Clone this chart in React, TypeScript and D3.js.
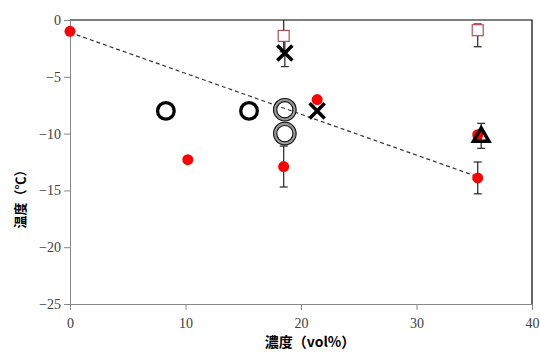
import React, { useEffect, useRef } from "react";
import * as d3 from "d3";

// red filled circles
const redX = [0, 10.2, 18.5, 21.4, 35.3, 35.3];
const redY = [-1.0, -12.3, -12.9, -7.0, -10.1, -13.9];
const redErr = [0, 0, 1.8, 0, 0, 1.4];

// open black circles
const ringX = [8.3, 15.5];
const ringY = [-8.0, -8.0];

// double circles
const dblX = [18.6, 18.6];
const dblY = [-7.9, -10.0];

// cross markers
const crossX = [18.6, 21.4];
const crossY = [-2.9, -8.0];
const crossErr = [1.2, 0];

// open squares
const sqX = [18.5, 35.3];
const sqY = [-1.4, -0.9];
const sqErrUp = [1.4, 0.55];
const sqErrDown = [1.4, 1.45];

// triangle
const triX = [35.6];
const triY = [-10.2];
const triErr = [1.1];

// dashed trend line
const trendX = [0, 35.3];
const trendY = [-1.1, -13.8];

const xTicks = [0, 10, 20, 30, 40];
const yTicks = [0, -5, -10, -15, -20, -25];

const App = () => {
  const ref = useRef<SVGSVGElement>(null);

  useEffect(() => {
    const svg = d3.select(ref.current);
    svg.selectAll("*").remove();

    const width = 540, height = 352;
    const margin = { top: 20, right: 8, bottom: 48, left: 70 };

    const x = d3.scaleLinear().domain([0, 40]).range([margin.left, width - margin.right]);
    const y = d3.scaleLinear().domain([-25, 0]).range([height - margin.bottom, margin.top]);

    const tickFont = "'Liberation Serif', 'DejaVu Serif', serif";

    // frame: top & right black
    svg.append("path")
      .attr("d", `M${x(0)},${y(0)}H${x(40)}V${y(-25)}`)
      .attr("fill", "none")
      .attr("stroke", "#000")
      .attr("stroke-width", 1.2);

    // x axis
    const xAxis = svg.append("g")
      .attr("transform", `translate(0,${y(-25)})`)
      .call(d3.axisBottom(x).tickValues(xTicks).tickSize(6).tickSizeOuter(0));
    xAxis.select(".domain").attr("stroke", "#888");
    xAxis.selectAll(".tick line").attr("stroke", "#888");
    xAxis.selectAll("text")
      .attr("fill", "#404040")
      .attr("font-size", 14)
      .attr("font-family", tickFont)
      .attr("dy", "1.05em");

    // y axis
    const yAxis = svg.append("g")
      .attr("transform", `translate(${x(0)},0)`)
      .call(d3.axisLeft(y).tickValues(yTicks).tickSize(6).tickSizeOuter(0));
    yAxis.select(".domain").attr("stroke", "#888");
    yAxis.selectAll(".tick line").attr("stroke", "#888");
    yAxis.selectAll("text")
      .attr("fill", "#404040")
      .attr("font-size", 14)
      .attr("font-family", tickFont)
      .attr("x", -9);

    // axis titles
    svg.append("text")
      .attr("x", 310)
      .attr("y", 347)
      .attr("text-anchor", "middle")
      .attr("font-size", 14)
      .attr("font-weight", "bold")
      .attr("font-family", "'Noto Sans CJK JP', sans-serif")
      .text("濃度（vol%）");

    svg.append("text")
      .attr("transform", "translate(25,196) rotate(-90)")
      .attr("text-anchor", "middle")
      .attr("font-size", 13)
      .attr("font-weight", "bold")
      .attr("font-family", "'Noto Sans CJK JP', sans-serif")
      .text("温度（℃）");

    // trend line
    const line = d3.line<number>()
      .x((d, i) => x(trendX[i]))
      .y((d) => y(d));
    svg.append("path")
      .datum(trendY)
      .attr("d", line)
      .attr("fill", "none")
      .attr("stroke", "#333")
      .attr("stroke-width", 1.2)
      .attr("stroke-dasharray", "4,3");

    // error bars
    const errBar = (cx: number, lo: number, hi: number) => {
      const g = svg.append("g").attr("stroke", "#333").attr("stroke-width", 1.3);
      g.append("line").attr("x1", x(cx)).attr("x2", x(cx)).attr("y1", y(hi)).attr("y2", y(lo));
      if (hi < 0) g.append("line").attr("x1", x(cx) - 4).attr("x2", x(cx) + 4).attr("y1", y(hi)).attr("y2", y(hi));
      g.append("line").attr("x1", x(cx) - 4).attr("x2", x(cx) + 4).attr("y1", y(lo)).attr("y2", y(lo));
    };
    redX.forEach((d, i) => { if (redErr[i] > 0) errBar(d, redY[i] - redErr[i], redY[i] + redErr[i]); });
    crossX.forEach((d, i) => { if (crossErr[i] > 0) errBar(d, crossY[i] - crossErr[i], crossY[i] + crossErr[i]); });
    sqX.forEach((d, i) => errBar(d, sqY[i] - sqErrDown[i], Math.min(0, sqY[i] + sqErrUp[i])));
    triX.forEach((d, i) => errBar(d, triY[i] - triErr[i], triY[i] + triErr[i]));

    // squares
    svg.selectAll(".sq")
      .data(sqX)
      .enter()
      .append("rect")
      .attr("x", (d) => x(d) - 5.5)
      .attr("y", (d, i) => y(sqY[i]) - 5.5)
      .attr("width", 11)
      .attr("height", 11)
      .attr("fill", "#fff")
      .attr("stroke", "#b05050")
      .attr("stroke-width", 1.2);

    // red circles
    svg.selectAll(".red")
      .data(redX)
      .enter()
      .append("circle")
      .attr("cx", (d) => x(d))
      .attr("cy", (d, i) => y(redY[i]))
      .attr("r", 5.5)
      .attr("fill", "#ff0000");

    // open circles
    svg.selectAll(".ring")
      .data(ringX)
      .enter()
      .append("circle")
      .attr("cx", (d) => x(d))
      .attr("cy", (d, i) => y(ringY[i]))
      .attr("r", 8.3)
      .attr("fill", "none")
      .attr("stroke", "#000")
      .attr("stroke-width", 3.3);

    // double circles
    dblX.forEach((d, i) => {
      const g = svg.append("g").attr("fill", "none");
      g.append("circle").attr("cx", x(d)).attr("cy", y(dblY[i])).attr("r", 9.7)
        .attr("stroke", "#999").attr("stroke-width", 3.6);
      g.append("circle").attr("cx", x(d)).attr("cy", y(dblY[i])).attr("r", 11.3)
        .attr("stroke", "#111").attr("stroke-width", 1.1);
      g.append("circle").attr("cx", x(d)).attr("cy", y(dblY[i])).attr("r", 8.1)
        .attr("stroke", "#111").attr("stroke-width", 1.1);
    });

    // crosses
    const cross = d3.symbol().type(d3.symbolX).size(150);
    svg.selectAll(".cross")
      .data(crossX)
      .enter()
      .append("path")
      .attr("transform", (d, i) => `translate(${x(d)},${y(crossY[i])})`)
      .attr("d", cross)
      .attr("fill", "none")
      .attr("stroke", "#000")
      .attr("stroke-width", 3.5);

    // triangle
    const tri = d3.symbol().type(d3.symbolTriangle2).size(170);
    svg.selectAll(".tri")
      .data(triX)
      .enter()
      .append("path")
      .attr("transform", (d, i) => `translate(${x(d)},${y(triY[i]) + 1})`)
      .attr("d", tri)
      .attr("fill", "none")
      .attr("stroke", "#000")
      .attr("stroke-width", 3.5)
      .attr("stroke-linejoin", "miter");
  }, []);

  return (
    <div style={{ position: "absolute", left: 0, top: 0 }}>
      <svg ref={ref} width={540} height={352} style={{ display: "block", background: "#fff" }} />
    </div>
  );
};

export default App;
